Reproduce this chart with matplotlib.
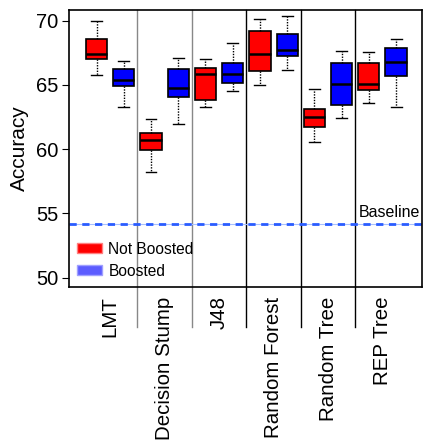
import numpy as np
import matplotlib
matplotlib.use("Agg")
import matplotlib.pyplot as plt
from matplotlib.patches import Patch

plt.rcParams['font.family'] = ['Liberation Sans', 'DejaVu Sans']

# data (box stats per classifier)
classifiers = ['LMT', 'Decision Stump', 'J48', 'Random Forest', 'Random Tree', 'REP Tree']

# not boosted: [whislo, q1, med, q3, whishi]
not_boosted = [
    [65.75, 67.0, 67.4, 68.55, 69.95],
    [58.2, 59.9, 60.7, 61.24, 62.35],
    [63.3, 63.83, 65.85, 66.35, 67.0],
    [65.02, 66.06, 67.4, 69.22, 70.15],
    [60.58, 61.75, 62.53, 63.1, 64.68],
    [63.6, 64.6, 65.07, 66.7, 67.59],
]
boosted = [
    [63.25, 64.95, 65.4, 66.25, 66.9],
    [62.0, 64.04, 64.74, 66.26, 67.1],
    [64.55, 65.13, 65.83, 66.68, 68.24],
    [66.2, 67.23, 67.7, 69.0, 70.37],
    [62.45, 63.46, 65.07, 66.7, 67.67],
    [63.26, 65.7, 66.76, 67.85, 68.58],
]
baseline = 54.16


def to_stats(rows):
    out = []
    for lo, q1, med, q3, hi in rows:
        out.append(dict(whislo=lo, q1=q1, med=med, q3=q3, whishi=hi, fliers=[]))
    return out


fig = plt.figure(figsize=(4.23, 4.40), dpi=100)
ax = fig.add_axes([0.1638, 0.3484, 0.8331, 0.6282])

pos = np.arange(len(classifiers))
common = dict(widths=0.39, capwidths=0.2, patch_artist=True, showfliers=False,
              whiskerprops=dict(color='black', linestyle=(0, (1, 1)), linewidth=1),
              capprops=dict(color='black', linewidth=1),
              medianprops=dict(color='black', linewidth=1.8))

b1 = ax.bxp(to_stats(not_boosted), positions=pos - 0.25,
            boxprops=dict(facecolor='#ff0000', edgecolor='black', linewidth=1.2), **common)
b2 = ax.bxp(to_stats(boosted), positions=pos + 0.25,
            boxprops=dict(facecolor='#0000ff', edgecolor='black', linewidth=1.2), **common)

# separators between classifiers, running down into the label area
for i in range(len(classifiers) - 1):
    col = '#888888' if i < 2 else 'black'
    ax.axvline(i + 0.5, ymin=-0.145, ymax=1, color=col, lw=1, clip_on=False, zorder=0)

# baseline
ax.axhline(baseline, color='#a8c0ff', lw=0.8, zorder=1)
ax.axhline(baseline, color='#2a5cff', lw=2, linestyle=(0, (2.6, 2)), zorder=2)
ax.text(5.69, 55.1, 'Baseline', ha='right', va='center', fontsize=11.5)

ax.set_xlim(-0.75, 5.72)
ax.set_ylim(49.3, 70.81)
ax.set_yticks([50, 55, 60, 65, 70])
ax.set_xticks(pos)
ax.set_xticklabels(classifiers, rotation=90, fontsize=14.8)
ax.tick_params(axis='x', length=0, pad=7)
ax.tick_params(axis='y', labelsize=14.5, length=5, pad=3)
ax.set_ylabel('Accuracy', fontsize=15, labelpad=5)

for s in ax.spines.values():
    s.set_linewidth(1.2)

handles = [Patch(facecolor='#ff0000', edgecolor='#ff8080', label='Not Boosted'),
           Patch(facecolor='#5c5cff', edgecolor='#a0a0ff', label='Boosted')]
ax.legend(handles=handles, loc='lower left', frameon=False, fontsize=11.2,
          handlelength=1.6, handleheight=0.65, handletextpad=0.4,
          labelspacing=0.45, borderaxespad=0.12, bbox_to_anchor=(0.0, 0.0))

fig.savefig('out.png', dpi=100)
